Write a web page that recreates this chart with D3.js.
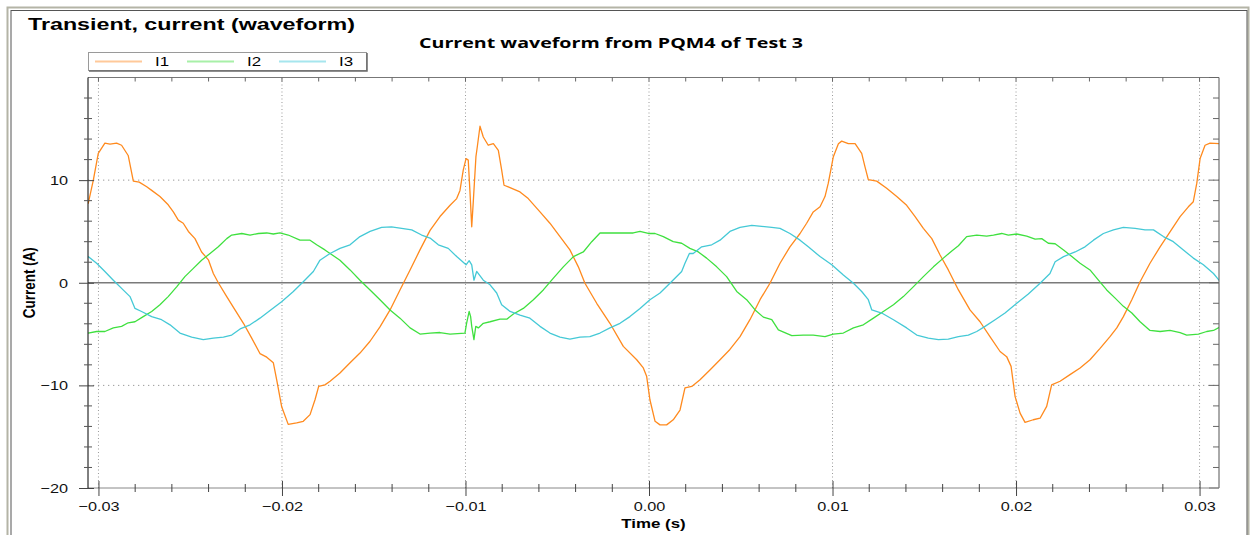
<!DOCTYPE html>
<html>
<head>
<meta charset="utf-8">
<script src="https://cdn.jsdelivr.net/npm/d3@7"></script>
<style>
  body { margin: 0; background: #fff; }
  svg { display: block; font-family: "Liberation Sans", Arial, sans-serif; }
</style>
</head>
<body>
<svg id="chart" width="1251" height="535"></svg>
<script>
// time in ms, current in A
var i1Time = [-30.56,-30.28,-30.01,-29.65,-29.37,-29.01,-28.74,-28.38,-28.10,-27.78,-27.37,-27.10,-26.65,-26.20,-25.92,-25.65,-25.38,-25.10,-24.74,-24.38,-24.00,-23.74,-23.47,-23.01,-22.56,-22.10,-21.65,-21.20,-20.83,-20.47,-20.29,-20.02,-19.66,-19.20,-18.84,-18.47,-18.20,-18.00,-17.66,-17.38,-16.84,-16.29,-15.75,-15.20,-14.66,-14.11,-13.57,-13.02,-12.48,-11.93,-11.39,-10.84,-10.48,-10.30,-10.12,-9.97,-9.85,-9.76,-9.66,-9.57,-9.43,-9.36,-9.21,-9.03,-8.76,-8.48,-8.21,-8.03,-7.90,-7.67,-7.03,-6.58,-5.94,-5.40,-4.85,-4.31,-3.85,-3.49,-2.85,-2.13,-1.40,-0.67,-0.31,-0.13,0.05,0.33,0.60,0.96,1.32,1.69,1.96,2.33,2.78,3.32,3.87,4.41,4.96,5.50,6.05,6.59,7.14,7.68,8.23,8.59,8.95,9.32,9.59,9.77,10.04,10.32,10.50,10.86,11.23,11.59,11.77,11.95,12.41,12.95,13.50,14.04,14.50,14.95,15.41,15.86,16.31,16.86,17.49,18.04,18.58,19.13,19.49,19.73,19.95,20.22,20.49,20.94,21.31,21.67,21.94,22.40,22.94,23.49,24.03,24.58,25.12,25.49,25.85,26.31,26.76,27.30,27.85,28.39,28.94,29.39,29.66,29.85,30.03,30.30,30.57,31.08];
var i1Values = [7.7,10.0,12.6,13.6,13.5,13.6,13.4,12.4,9.9,9.8,9.35,9.0,8.4,7.6,6.9,6.1,5.8,5.0,4.3,3.0,2.2,0.9,0.0,-1.35,-2.65,-3.95,-5.4,-6.9,-7.25,-7.8,-9.45,-12.05,-13.8,-13.65,-13.5,-12.85,-11.4,-10.1,-9.95,-9.6,-8.8,-7.8,-6.85,-5.7,-4.3,-2.65,-0.7,1.25,3.2,5.1,6.45,7.55,8.2,9.0,11.0,12.1,11.95,9.0,5.45,8.05,12.3,13.2,15.25,14.2,13.4,13.55,12.9,11.0,9.5,9.35,8.85,8.2,6.9,5.8,4.5,3.2,1.55,-0.05,-2.0,-3.95,-6.2,-7.5,-8.3,-9.1,-11.4,-13.5,-13.85,-13.85,-13.35,-12.4,-10.25,-10.1,-9.45,-8.5,-7.5,-6.5,-5.25,-3.6,-1.65,-0.05,1.9,3.5,4.8,5.8,6.9,7.4,8.4,9.7,12.25,13.55,13.8,13.55,13.55,12.6,11.3,10.05,9.9,9.2,8.4,7.55,6.45,5.3,4.3,2.7,1.25,-0.7,-2.65,-3.8,-5.25,-6.7,-7.2,-8.15,-11.1,-12.7,-13.6,-13.35,-13.2,-12.05,-9.95,-9.6,-8.95,-8.3,-7.5,-6.4,-5.25,-4.4,-3.3,-1.65,0.1,1.9,3.5,4.95,6.45,7.4,7.9,9.7,12.1,13.4,13.6,13.55];

var i2Time = [-30.56,-30.10,-29.65,-29.19,-28.74,-28.38,-28.01,-27.56,-27.10,-26.65,-26.20,-25.74,-25.29,-24.83,-24.38,-23.92,-23.47,-23.01,-22.74,-22.19,-21.74,-21.29,-20.83,-20.47,-20.11,-19.66,-19.02,-18.47,-18.11,-17.66,-17.38,-16.84,-16.29,-15.75,-15.20,-14.66,-14.11,-13.57,-13.02,-12.48,-11.93,-11.39,-10.84,-10.03,-9.94,-9.80,-9.72,-9.66,-9.54,-9.44,-9.30,-9.03,-8.66,-8.12,-7.75,-7.39,-6.85,-6.30,-5.76,-5.21,-4.67,-4.12,-3.58,-3.12,-2.67,-2.13,-1.58,-0.86,-0.49,-0.04,0.33,0.78,1.32,1.78,2.23,2.69,3.14,3.69,4.23,4.78,5.32,5.78,6.23,6.69,7.05,7.78,8.41,8.95,9.59,10.04,10.59,11.14,11.68,12.23,12.77,13.32,13.86,14.40,14.95,15.50,16.04,16.50,16.86,17.31,17.86,18.40,18.77,19.22,19.58,20.04,20.58,21.04,21.40,21.76,22.13,22.59,23.04,23.49,24.03,24.49,24.94,25.40,25.85,26.31,26.76,27.30,27.85,28.39,28.94,29.30,29.94,30.39,30.76,31.08];
var i2Values = [-4.9,-4.75,-4.75,-4.4,-4.25,-3.9,-3.8,-3.3,-2.8,-2.15,-1.35,-0.4,0.6,1.4,2.2,2.85,3.5,4.3,4.65,4.8,4.65,4.8,4.85,4.75,4.85,4.65,4.15,4.15,3.7,3.2,2.85,2.2,1.25,0.25,-0.7,-1.65,-2.65,-3.45,-4.4,-5.0,-4.9,-4.85,-5.0,-4.9,-3.95,-2.8,-3.3,-4.25,-5.55,-4.25,-4.4,-3.95,-3.8,-3.55,-3.55,-3.05,-2.5,-1.65,-0.7,0.45,1.55,2.55,3.0,4.0,4.85,4.85,4.85,4.85,5.0,4.8,4.8,4.5,4.0,3.85,3.35,3.0,2.4,1.55,0.6,-0.85,-1.65,-2.65,-3.35,-3.6,-4.6,-5.15,-5.1,-5.1,-5.25,-5.0,-4.9,-4.4,-4.1,-3.45,-2.8,-2.15,-1.35,-0.4,0.6,1.55,2.4,3.1,3.6,4.5,4.65,4.55,4.65,4.8,4.65,4.75,4.55,4.25,4.3,3.85,3.8,3.2,2.55,1.9,1.25,0.25,-0.7,-1.5,-2.3,-2.95,-3.8,-4.65,-4.75,-4.65,-4.85,-5.1,-5.0,-4.75,-4.65,-4.35];

var i3Time = [-30.56,-30.10,-29.65,-29.19,-28.74,-28.28,-28.01,-27.65,-27.10,-26.56,-26.10,-25.56,-24.92,-24.29,-23.74,-23.19,-22.74,-22.28,-21.74,-21.20,-20.65,-20.02,-19.38,-18.84,-18.29,-17.93,-17.38,-16.84,-16.29,-15.75,-15.20,-14.57,-14.03,-13.48,-12.93,-12.39,-11.93,-11.48,-10.94,-10.48,-9.97,-9.80,-9.66,-9.54,-9.39,-9.03,-8.66,-8.30,-8.03,-7.57,-7.03,-6.49,-5.94,-5.40,-4.85,-4.31,-3.76,-3.22,-2.67,-2.13,-1.58,-1.04,-0.49,0.05,0.60,1.14,1.78,1.96,2.20,2.41,2.87,3.42,3.87,4.41,4.96,5.60,6.14,6.69,7.14,7.68,8.23,8.68,9.32,9.96,10.59,11.14,11.59,11.95,12.14,12.68,13.32,14.04,14.59,15.22,15.77,16.31,16.86,17.40,17.86,18.31,18.86,19.40,20.04,20.67,21.31,21.85,22.13,22.59,23.22,23.76,24.22,24.76,25.31,25.85,26.49,27.03,27.49,28.03,28.57,29.12,29.66,30.21,30.76,31.08];
var i3Values = [2.55,1.9,1.1,0.25,-0.55,-1.35,-2.5,-2.8,-3.3,-3.6,-4.1,-4.9,-5.3,-5.55,-5.4,-5.3,-5.1,-4.5,-4.1,-3.45,-2.7,-1.85,-0.85,0.1,1.1,2.2,2.85,3.35,3.7,4.5,5.0,5.4,5.45,5.3,5.15,4.65,4.35,3.7,3.35,2.55,1.75,2.15,1.75,0.25,1.1,0.25,-0.2,-1.0,-2.15,-2.8,-3.15,-3.45,-4.25,-4.9,-5.3,-5.5,-5.3,-5.25,-4.9,-4.4,-3.95,-3.3,-2.5,-1.65,-1.0,-0.05,1.1,1.9,2.85,2.85,3.5,3.7,4.15,5.0,5.4,5.6,5.5,5.4,5.3,4.8,4.15,3.5,2.55,1.75,0.75,-0.05,-0.85,-1.65,-2.65,-2.95,-3.6,-4.4,-5.1,-5.4,-5.55,-5.5,-5.25,-5.1,-4.75,-4.25,-3.6,-2.95,-2.0,-1.1,-0.05,0.9,2.05,2.55,3.0,3.5,4.15,4.8,5.15,5.4,5.3,5.15,5.15,4.5,4.0,3.2,2.4,1.75,0.9,0.2];

var seriesNames = ["I1", "I2", "I3"];
var seriesColors = ["#ff8a1e", "#3fe03f", "#45c9d6"];
var legendColors = ["#ffc99a", "#a8f0a8", "#a6e6ee"];
var xTickValues = [-0.03, -0.02, -0.01, 0, 0.01, 0.02, 0.03];
var yTickValues = [-20, -10, 0, 10];

var svg = d3.select("#chart");
var padding = { top: 77.5, bottom: 47, left: 88, right: 32 };
var width = +svg.attr("width");
var height = +svg.attr("height");
var stretchX = 1.25;

function stretch(sel, k) {
  sel.each(function () {
    var w = this.getComputedTextLength();
    d3.select(this).attr("textLength", w * k).attr("lengthAdjust", "spacingAndGlyphs");
  });
}

// outer frame
svg.append("rect").attr("x", 7.5).attr("y", 7.5).attr("width", 1241).attr("height", 540)
  .attr("fill", "none").attr("stroke", "#b4b4a6").attr("stroke-width", 2);
svg.append("rect").attr("x", 11).attr("y", 10.5).attr("width", 1236).attr("height", 540)
  .attr("fill", "#fff").attr("stroke", "#555").attr("stroke-width", 1);

var x = d3.scaleLinear().domain([-0.03057, 0.03106]).range([padding.left, width - padding.right]);
var y = d3.scaleLinear().domain([-20, 20]).range([height - padding.bottom, padding.top]);
var x0 = x.range()[0], x1 = x.range()[1], y0 = y.range()[0], y1 = y.range()[1];

// titles
svg.append("text").attr("x", 28).attr("y", 30)
  .style("font-size", "17px").style("font-weight", "bold")
  .attr("textLength", 327).attr("lengthAdjust", "spacingAndGlyphs")
  .text("Transient, current (waveform)");
svg.append("text").attr("x", 611).attr("y", 48).attr("text-anchor", "middle")
  .style("font-family", "'Open Sans', sans-serif")
  .style("font-size", "14.5px").style("font-weight", "bold")
  .attr("textLength", 384).attr("lengthAdjust", "spacingAndGlyphs")
  .text("Current waveform from PQM4 of Test 3");

// gridlines
var grid = svg.append("g");
grid.selectAll("line.vgrid").data(xTickValues).enter().append("line")
  .attr("x1", function (d) { return x(d); }).attr("x2", function (d) { return x(d); })
  .attr("y1", y1).attr("y2", y0)
  .attr("stroke", "#9a9a9a").attr("stroke-dasharray", "1,2.5");
grid.selectAll("line.hgrid").data([10, -10]).enter().append("line")
  .attr("x1", x0).attr("x2", x1)
  .attr("y1", function (d) { return y(d); }).attr("y2", function (d) { return y(d); })
  .attr("stroke", "#9a9a9a").attr("stroke-dasharray", "1.3,3.7");
grid.append("line").attr("x1", x0).attr("x2", x1).attr("y1", y(0)).attr("y2", y(0))
  .attr("stroke", "#7a7a7a").attr("stroke-width", 1.3);

// waveforms
var line = d3.line()
  .x(function (d) { return x(d[0] / 1000); })
  .y(function (d) { return y(d[1]); });
var series = [
  d3.zip(i1Time, i1Values),
  d3.zip(i2Time, i2Values),
  d3.zip(i3Time, i3Values)
];
svg.append("clipPath").attr("id", "clip").append("rect")
  .attr("x", x0).attr("y", y1).attr("width", x1 - x0).attr("height", y0 - y1);
svg.append("g").attr("clip-path", "url(#clip)")
  .selectAll("path.line").data(series).enter().append("path")
  .attr("fill", "none")
  .attr("stroke", function (d, i) { return seriesColors[i]; })
  .attr("stroke-width", 1.3)
  .attr("stroke-linejoin", "round")
  .attr("d", line);

// plot border (top/right with inward ticks)
svg.append("line").attr("x1", x0).attr("x2", x1).attr("y1", y1).attr("y2", y1).attr("stroke", "#777");
svg.append("line").attr("x1", x1).attr("x2", x1).attr("y1", y1).attr("y2", y0).attr("stroke", "#555");
var minorX = d3.range(-0.030, 0.0311, 0.002);
svg.selectAll("line.topTick").data(minorX).enter().append("line")
  .attr("x1", function (d) { return x(d); }).attr("x2", function (d) { return x(d); })
  .attr("y1", y1).attr("y2", y1 + 4).attr("stroke", "#666");
var minorY = d3.range(-20, 20.1, 2);
svg.selectAll("line.rightTick").data(minorY).enter().append("line")
  .attr("x1", function (d) { return x1 - (d % 10 === 0 ? 10 : 6); }).attr("x2", x1)
  .attr("y1", function (d) { return y(d); }).attr("y2", function (d) { return y(d); })
  .attr("stroke", "#666");

// x axis
var xAxis = d3.axisBottom(x).tickValues(xTickValues).tickFormat(d3.format(".2f")).tickSize(0).tickPadding(0);
var gX = svg.append("g").attr("transform", "translate(0," + y0 + ")").call(xAxis);
gX.select(".domain").attr("stroke", "#888").attr("d", "M" + x0 + ",0H" + x1);
gX.selectAll(".tick line").attr("y1", -7).attr("y2", 8).attr("stroke", "#444");
gX.selectAll(".tick text").attr("y", 23).attr("dy", null)
  .style("font-size", "13px").style("font-family", "'Liberation Sans', Arial, sans-serif").attr("fill", "#111");
stretch(gX.selectAll(".tick text"), stretchX);
svg.selectAll("line.xMinor").data(minorX.filter(function (d) { return Math.abs(Math.round(d * 100) - d * 100) > 1e-6; }))
  .enter().append("line")
  .attr("x1", function (d) { return x(d); }).attr("x2", function (d) { return x(d); })
  .attr("y1", y0 - 4).attr("y2", y0 + 4).attr("stroke", "#444");

// y axis
var yAxis = d3.axisLeft(y).tickValues(yTickValues).tickFormat(d3.format("d")).tickSize(0).tickPadding(0);
var gY = svg.append("g").attr("transform", "translate(" + x0 + ",0)").call(yAxis);
gY.select(".domain").attr("stroke", "#000").attr("d", "M0," + y1 + "V" + y0);
gY.selectAll(".tick line").attr("x1", -9).attr("x2", 6).attr("stroke", "#444");
gY.selectAll(".tick text").attr("x", -20).attr("dy", "0.35em")
  .style("font-size", "13px").style("font-family", "'Liberation Sans', Arial, sans-serif").attr("fill", "#111");
stretch(gY.selectAll(".tick text"), stretchX);
svg.selectAll("line.yMinor").data(minorY.filter(function (d) { return d % 10 !== 0; }))
  .enter().append("line")
  .attr("x1", x0 - 4).attr("x2", x0 + 4)
  .attr("y1", function (d) { return y(d); }).attr("y2", function (d) { return y(d); })
  .attr("stroke", "#555");

// axis titles
var tx = svg.append("text").attr("x", (x0 + x1) / 2).attr("y", 528).attr("text-anchor", "middle")
  .style("font-size", "13.5px").style("font-weight", "bold").text("Time (s)");
stretch(tx, stretchX);
svg.append("text")
  .attr("transform", "translate(35," + y(0) + ") scale(1.25,1) rotate(-90)")
  .attr("text-anchor", "middle")
  .style("font-size", "13.5px").style("font-weight", "bold")
  .text("Current (A)");

// legend
var legend = svg.append("g");
legend.append("rect").attr("x", 88.5).attr("y", 52.5).attr("width", 278).attr("height", 18)
  .attr("fill", "#fff").attr("stroke", "#9a9a9a");
legend.append("path").attr("d", "M89,71H367V53").attr("fill", "none").attr("stroke", "#6a6a6a").attr("stroke-width", 1.5);
var items = legend.selectAll("g.item").data(seriesNames).enter().append("g")
  .attr("transform", function (d, i) { return "translate(" + (95 + i * 92) + ",61.5)"; });
items.append("line").attr("x1", 0).attr("x2", 47).attr("y1", 0).attr("y2", 0)
  .attr("stroke", function (d, i) { return legendColors[i]; }).attr("stroke-width", 2);
var lt = items.append("text").attr("x", 60).attr("dy", "0.36em")
  .style("font-size", "13.5px").text(function (d) { return d; });
stretch(lt, stretchX);
</script>
</body>
</html>
